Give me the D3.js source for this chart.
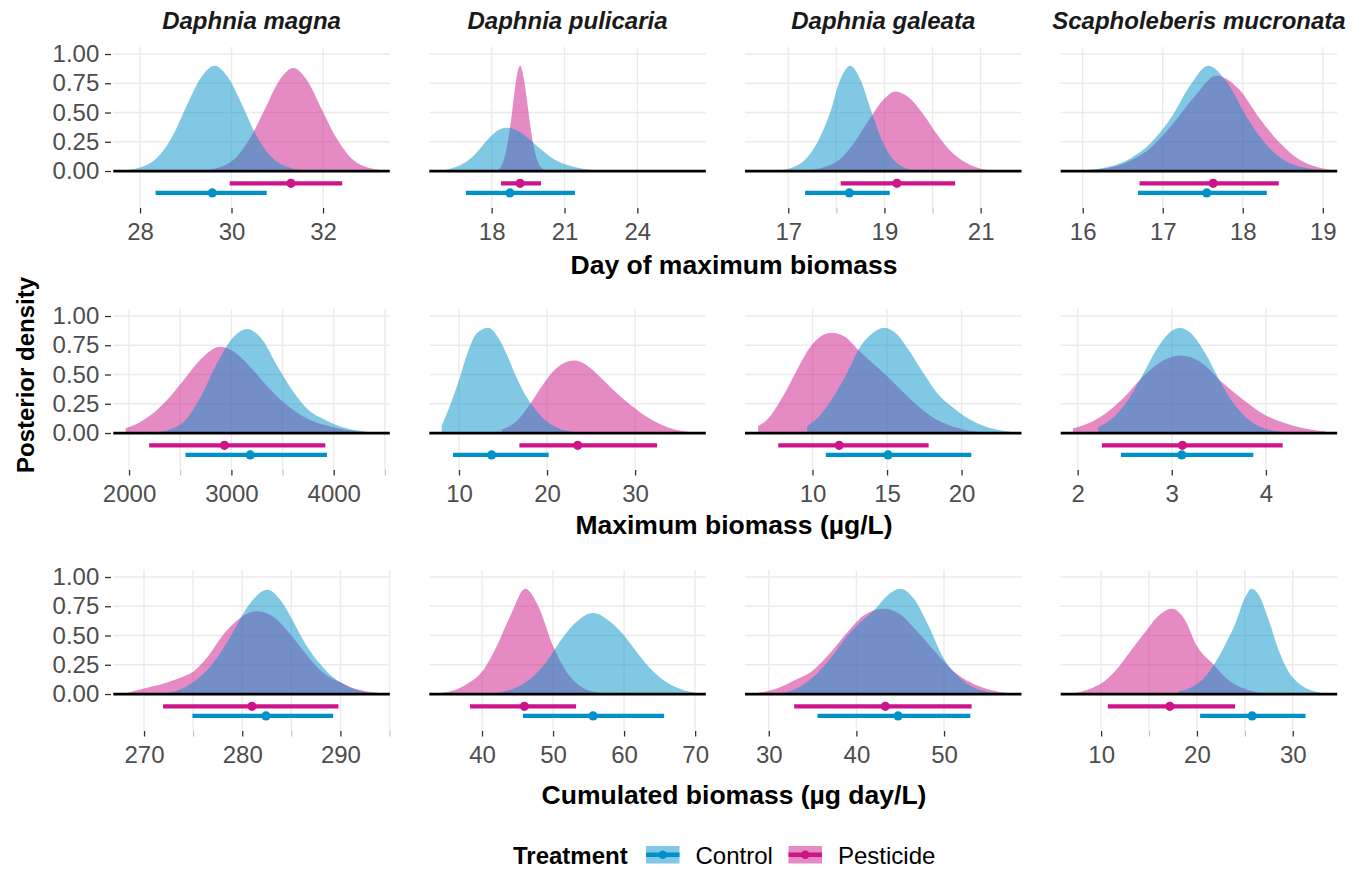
<!DOCTYPE html>
<html>
<head>
<meta charset="utf-8">
<script src="https://cdn.jsdelivr.net/npm/d3@7/dist/d3.min.js"></script>
<style>
    body { margin: 0; background: #fff; }
    svg text { font-family: "Liberation Sans", Arial, sans-serif; }
</style>
</head>
<body>
<div id="chart"></div>
<script>
// ---- data ----
const species = ["Daphnia magna", "Daphnia pulicaria", "Daphnia galeata", "Scapholeberis mucronata"];
const metrics = ["Day of maximum biomass", "Maximum biomass (µg/L)", "Cumulated biomass (µg day/L)"];
const treatments = ["Control", "Pesticide"];
const yTicks = [0, 0.25, 0.5, 0.75, 1];

// x range shown in each panel (row = metric, column = species)
const xDomains = [
    [[27.416, 33.46], [15.43, 26.82], [16.10, 21.85], [15.725, 19.18]],
    [[1846, 4548], [6.63, 38.03], [5.47, 24.02], [1.82, 4.757]],
    [[266.87, 295.03], [32.58, 71.5], [27.29, 58.84], [5.78, 34.64]]
];
const majorTicks = [
    [[28, 30, 32], [18, 21, 24], [17, 19, 21], [16, 17, 18, 19]],
    [[2000, 3000, 4000], [10, 20, 30], [10, 15, 20], [2, 3, 4]],
    [[270, 280, 290], [40, 50, 60, 70], [30, 40, 50], [10, 20, 30]]
];
const minorTicks = [
    [[], [], [18, 20], []],
    [[2500, 3500, 4500], [], [], []],
    [[275, 285, 295], [], [], [15, 25]]
];

// posterior densities, [x, scaled density]
const dayControl = [
    [[27.5, 0.003], [27.77, 0.01], [28.08, 0.04], [28.39, 0.12], [28.7, 0.29], [29.01, 0.55], [29.32, 0.79], [29.63, 0.9], [29.94, 0.79], [30.25, 0.55], [30.56, 0.29], [30.87, 0.12], [31.18, 0.04], [31.49, 0.01], [31.7, 0.002]],
    [[15.9, 0.003], [16.3, 0.02], [16.8, 0.06], [17.3, 0.14], [17.8, 0.26], [18.2, 0.34], [18.6, 0.37], [19.0, 0.35], [19.5, 0.28], [20.0, 0.19], [20.5, 0.11], [21.0, 0.06], [21.5, 0.03], [22.0, 0.012], [22.5, 0.003]],
    [[16.75, 0.003], [16.9, 0.01], [17.15, 0.04], [17.4, 0.12], [17.65, 0.28], [17.87, 0.5], [18.08, 0.78], [18.29, 0.9], [18.5, 0.78], [18.72, 0.52], [18.94, 0.27], [19.16, 0.11], [19.38, 0.035], [19.6, 0.008]],
    [[16.0, 0.004], [16.1, 0.01], [16.35, 0.04], [16.6, 0.11], [16.85, 0.24], [17.1, 0.45], [17.35, 0.74], [17.57, 0.9], [17.8, 0.76], [18.05, 0.46], [18.3, 0.22], [18.55, 0.08], [18.8, 0.025], [19.0, 0.005]]
];
const dayPesticide = [
    [[29.3, 0.003], [29.49, 0.01], [29.8, 0.04], [30.11, 0.12], [30.42, 0.29], [30.73, 0.53], [31.04, 0.77], [31.35, 0.88], [31.66, 0.77], [31.97, 0.53], [32.28, 0.29], [32.59, 0.12], [32.9, 0.04], [33.21, 0.01], [33.4, 0.003]],
    [[18.2, 0.005], [18.36, 0.03], [18.52, 0.11], [18.68, 0.27], [18.85, 0.52], [19.01, 0.78], [19.17, 0.9], [19.33, 0.78], [19.5, 0.53], [19.66, 0.29], [19.83, 0.12], [20.0, 0.04], [20.2, 0.008]],
    [[17.5, 0.01], [17.8, 0.04], [18.1, 0.11], [18.4, 0.26], [18.7, 0.45], [19.0, 0.62], [19.23, 0.68], [19.5, 0.63], [19.8, 0.49], [20.1, 0.31], [20.4, 0.16], [20.7, 0.07], [21.0, 0.02], [21.3, 0.004]],
    [[16.0, 0.004], [16.1, 0.01], [16.35, 0.03], [16.6, 0.09], [16.85, 0.2], [17.1, 0.38], [17.4, 0.64], [17.67, 0.815], [17.95, 0.7], [18.2, 0.46], [18.45, 0.25], [18.7, 0.1], [18.95, 0.03], [19.15, 0.005]]
];
const maxControl = [
    [[2304, 0.01], [2400, 0.03], [2550, 0.11], [2700, 0.31], [2850, 0.58], [3000, 0.8], [3154, 0.89], [3300, 0.8], [3450, 0.57], [3600, 0.36], [3750, 0.2], [3900, 0.12], [4050, 0.06], [4200, 0.025], [4350, 0.008], [4450, 0.002]],
    [[8.03, 0.06], [9.0, 0.24], [10.0, 0.45], [11.0, 0.69], [12.0, 0.85], [13.33, 0.9], [14.5, 0.81], [15.5, 0.66], [16.5, 0.48], [17.5, 0.33], [18.5, 0.22], [19.5, 0.13], [20.5, 0.07], [21.5, 0.035], [22.5, 0.015], [23.5, 0.005]],
    [[9.64, 0.06], [10.5, 0.15], [11.5, 0.33], [12.5, 0.56], [13.07, 0.71], [14.0, 0.85], [14.8, 0.9], [15.7, 0.84], [16.5, 0.7], [17.5, 0.5], [18.5, 0.32], [19.5, 0.21], [20.5, 0.12], [21.5, 0.06], [22.5, 0.025], [23.5, 0.006]],
    [[2.22, 0.05], [2.4, 0.147], [2.55, 0.3], [2.7, 0.51], [2.85, 0.73], [2.97, 0.855], [3.085, 0.9], [3.2, 0.855], [3.35, 0.69], [3.5, 0.46], [3.65, 0.26], [3.8, 0.125], [3.95, 0.05], [4.1, 0.017], [4.3, 0.003]]
];
const maxPesticide = [
    [[1967, 0.04], [2100, 0.09], [2250, 0.18], [2400, 0.31], [2550, 0.47], [2700, 0.63], [2892, 0.737], [3050, 0.68], [3200, 0.55], [3350, 0.4], [3500, 0.27], [3650, 0.17], [3800, 0.1], [3950, 0.06], [4100, 0.03], [4250, 0.012], [4430, 0.002]],
    [[14.85, 0.03], [16, 0.07], [17, 0.14], [18.2, 0.26], [19.5, 0.41], [21, 0.55], [23.07, 0.62], [24.5, 0.58], [26, 0.48], [27.5, 0.37], [29, 0.27], [30, 0.21], [31.5, 0.13], [33, 0.07], [34.5, 0.03], [36, 0.01], [37, 0.002]],
    [[6.35, 0.06], [7, 0.12], [8, 0.31], [9, 0.55], [10, 0.76], [11.28, 0.857], [12.2, 0.82], [13.07, 0.71], [14, 0.6], [15, 0.486], [16, 0.36], [17, 0.24], [18, 0.14], [19, 0.075], [20, 0.035], [21, 0.01], [22, 0.002]],
    [[1.95, 0.04], [2.1, 0.08], [2.3, 0.17], [2.5, 0.31], [2.68, 0.47], [2.85, 0.59], [3.085, 0.663], [3.3, 0.61], [3.54, 0.43], [3.75, 0.29], [4.0, 0.15], [4.2, 0.085], [4.4, 0.04], [4.64, 0.012]]
];
const cumControl = [
    [[271.3, 0.003], [273, 0.02], [275, 0.1], [277, 0.26], [279, 0.52], [280.5, 0.74], [282.56, 0.892], [284, 0.79], [285, 0.65], [286.5, 0.42], [288, 0.25], [289, 0.16], [290, 0.1], [291, 0.055], [292, 0.025], [293.5, 0.005]],
    [[41, 0.005], [43, 0.02], [45, 0.06], [47, 0.14], [49, 0.27], [51, 0.45], [53, 0.6], [55.68, 0.693], [58, 0.62], [60, 0.5], [62, 0.34], [64, 0.2], [66, 0.1], [68, 0.04], [70, 0.01]],
    [[31.7, 0.01], [33, 0.04], [35, 0.14], [37, 0.3], [39, 0.5], [40, 0.58], [42.2, 0.73], [43.5, 0.84], [45.03, 0.9], [46.5, 0.82], [48, 0.62], [50, 0.3], [51.5, 0.16], [53, 0.07], [55, 0.02], [57.5, 0.003]],
    [[18, 0.02], [19.5, 0.06], [21, 0.16], [22, 0.28], [23, 0.43], [24, 0.6], [25, 0.82], [25.71, 0.9], [26.5, 0.84], [27.5, 0.63], [28.5, 0.38], [29.5, 0.2], [30.5, 0.1], [31.5, 0.045], [32.5, 0.018], [33.6, 0.004]]
];
const cumPesticide = [
    [[268, 0.005], [270, 0.048], [272, 0.09], [274, 0.15], [275, 0.19], [276.5, 0.32], [278, 0.5], [279.5, 0.63], [281.43, 0.707], [283, 0.67], [285, 0.5], [286.5, 0.34], [288, 0.2], [289, 0.14], [290, 0.1], [291, 0.06], [292, 0.035], [293.8, 0.01]],
    [[34.3, 0.01], [36, 0.03], [38, 0.09], [40, 0.19], [42, 0.4], [44, 0.67], [46.1, 0.9], [48, 0.74], [50, 0.41], [52, 0.18], [54, 0.06], [56, 0.015], [57, 0.005]],
    [[28.8, 0.01], [31, 0.05], [33, 0.12], [35, 0.2], [37, 0.35], [39, 0.53], [41, 0.68], [43.12, 0.728], [45, 0.68], [47, 0.53], [49, 0.36], [51, 0.2], [53, 0.1], [55, 0.04], [57.7, 0.005]],
    [[7.4, 0.01], [9, 0.05], [10, 0.09], [11.5, 0.2], [13, 0.36], [14.5, 0.52], [16, 0.67], [17.38, 0.728], [18.7, 0.64], [20, 0.41], [21.75, 0.25], [23, 0.14], [24.5, 0.06], [26, 0.02], [27, 0.005]]
];

// median and 95% interval, [lower, median, upper]
const controlIntervals = [
    [[28.34, 29.58, 30.77], [16.94, 18.75, 21.43], [17.35, 18.27, 19.11], [16.69, 17.55, 18.30]],
    [[2551, 3184, 3934], [9.32, 13.71, 20.19], [10.89, 15.07, 20.65], [2.46, 3.106, 3.866]],
    [[274.93, 282.42, 289.26], [45.77, 55.63, 65.63], [35.56, 44.76, 53.0], [20.33, 25.76, 31.33]]
];
const pesticideIntervals = [
    [[29.96, 31.30, 32.42], [18.38, 19.17, 20.03], [18.09, 19.26, 20.47], [16.71, 17.63, 18.45]],
    [[2196, 2932, 3918], [16.86, 23.49, 32.5], [7.7, 11.79, 17.79], [2.258, 3.113, 4.178]],
    [[271.94, 280.99, 289.8], [38.31, 45.96, 53.24], [32.9, 43.3, 53.15], [10.7, 17.17, 23.98]]
];

const densities = {
    Control: [dayControl, maxControl, cumControl],
    Pesticide: [dayPesticide, maxPesticide, cumPesticide]
};
const intervals = { Control: controlIntervals, Pesticide: pesticideIntervals };

// ---- layout ----
const width = 1364, height = 869;
const colLeft = [113.3, 429.3, 745, 1060.7];
const rowTop = [47, 309, 570];
const panelW = 276.5, panelH = 161;
const titleBaseline = [274, 534, 804];
const titleCenter = 734;
const yDomain = [-0.316, 1.06];
const intervalY = { Control: -0.187, Pesticide: -0.105 };
const colors = { Control: "#0191C9", Pesticide: "#CD1589" };
const slabAlpha = 0.5;

const svg = d3.select("#chart").append("svg")
    .attr("width", width)
    .attr("height", height);

const y = d3.scaleLinear().domain(yDomain).range([panelH, 0]);

metrics.forEach((metric, r) => {
    species.forEach((sp, c) => {
        const g = svg.append("g")
            .attr("transform", `translate(${colLeft[c]},${rowTop[r]})`);

        const x = d3.scaleLinear().domain(xDomains[r][c]).range([0, panelW]);

        // grid lines
        g.selectAll(".hgrid")
            .data(yTicks.slice(1))
            .join("line")
            .attr("x1", 0).attr("x2", panelW)
            .attr("y1", d => y(d)).attr("y2", d => y(d))
            .attr("stroke", "#EBEBEB").attr("stroke-width", 1.4);

        g.selectAll(".vgrid")
            .data(majorTicks[r][c].concat(minorTicks[r][c]))
            .join("line")
            .attr("x1", d => x(d)).attr("x2", d => x(d))
            .attr("y1", 0).attr("y2", panelH)
            .attr("stroke", "#EBEBEB").attr("stroke-width", 1.4);

        // slabs, pesticide first so control sits on top
        const area = d3.area()
            .x(d => x(d[0]))
            .y0(y(0))
            .y1(d => y(d[1]))
            .curve(d3.curveMonotoneX);

        ["Pesticide", "Control"].forEach(t => {
            g.append("path")
                .datum(densities[t][r][c])
                .attr("d", area)
                .attr("fill", colors[t])
                .attr("fill-opacity", slabAlpha);
        });

        // zero line
        g.append("line")
            .attr("x1", 0).attr("x2", panelW)
            .attr("y1", y(0)).attr("y2", y(0))
            .attr("stroke", "#000").attr("stroke-width", 2.8);

        // point + interval
        treatments.forEach(t => {
            const iv = intervals[t][r][c];
            g.append("line")
                .attr("x1", x(iv[0])).attr("x2", x(iv[2]))
                .attr("y1", y(intervalY[t])).attr("y2", y(intervalY[t]))
                .attr("stroke", colors[t]).attr("stroke-width", 4.3);
            g.append("circle")
                .attr("cx", x(iv[1])).attr("cy", y(intervalY[t]))
                .attr("r", 4.6)
                .attr("fill", colors[t]);
        });

        // x axis
        const xAxis = g.append("g")
            .attr("transform", `translate(0,${panelH})`)
            .call(d3.axisBottom(x).tickValues(majorTicks[r][c]).tickFormat(d => d).tickSize(5.5).tickPadding(9));
        xAxis.select(".domain").remove();
        xAxis.selectAll("line").attr("stroke", "#333").attr("stroke-width", 1.3);
        xAxis.selectAll("text").attr("font-size", 24).attr("fill", "#4D4D4D");

        if (minorTicks[r][c].length) {
            const mAxis = g.append("g")
                .attr("transform", `translate(0,${panelH})`)
                .call(d3.axisBottom(x).tickValues(minorTicks[r][c]).tickSize(5.5).tickFormat(""));
            mAxis.select(".domain").remove();
            mAxis.selectAll("line").attr("stroke", "#BDBDBD").attr("stroke-width", 1.1);
        }

        // y axis on the first column only
        if (c === 0) {
            const yAxis = g.append("g")
                .attr("transform", "translate(-2.3,0)")
                .call(d3.axisLeft(y).tickValues(yTicks).tickFormat(d3.format(".2f")).tickSize(6).tickPadding(5.7));
            yAxis.select(".domain").remove();
            yAxis.selectAll("line").attr("stroke", "#333").attr("stroke-width", 1.3);
            yAxis.selectAll("text").attr("font-size", 24).attr("fill", "#4D4D4D");
        }

        // species strips on the top row
        if (r === 0) {
            g.append("text")
                .attr("x", panelW / 2).attr("y", 28.5 - rowTop[0])
                .attr("text-anchor", "middle")
                .attr("font-size", 24).attr("font-weight", "bold").attr("font-style", "italic")
                .attr("fill", "#1A1A1A")
                .text(sp);
        }
    });

    // metric title under each row
    svg.append("text")
        .attr("x", titleCenter).attr("y", titleBaseline[r])
        .attr("text-anchor", "middle")
        .attr("font-size", 26.5).attr("font-weight", "bold")
        .attr("fill", "#000")
        .text(metric);
});

// y title
svg.append("text")
    .attr("transform", "translate(33.5,375) rotate(-90)")
    .attr("text-anchor", "middle")
    .attr("font-size", 24).attr("font-weight", "bold")
    .attr("fill", "#000")
    .text("Posterior density");

// legend
const legend = svg.append("g").attr("transform", "translate(0,864)");
legend.append("text")
    .attr("x", 513).attr("y", 0)
    .attr("font-size", 24).attr("font-weight", "bold")
    .text("Treatment");

const keyX = { Control: 646, Pesticide: 788.5 };
treatments.forEach(t => {
    const k = legend.append("g").attr("transform", `translate(${keyX[t]},-18)`);
    k.append("rect")
        .attr("width", 33.5).attr("height", 17.5)
        .attr("fill", colors[t]).attr("fill-opacity", slabAlpha);
    k.append("line")
        .attr("x1", 0).attr("x2", 33.5)
        .attr("y1", 8.75).attr("y2", 8.75)
        .attr("stroke", colors[t]).attr("stroke-width", 4.3);
    k.append("circle")
        .attr("cx", 16.75).attr("cy", 8.75).attr("r", 4.3)
        .attr("fill", colors[t]);
    legend.append("text")
        .attr("x", keyX[t] + 49.5).attr("y", 0)
        .attr("font-size", 24)
        .attr("fill", "#000")
        .text(t);
});
</script>
</body>
</html>
